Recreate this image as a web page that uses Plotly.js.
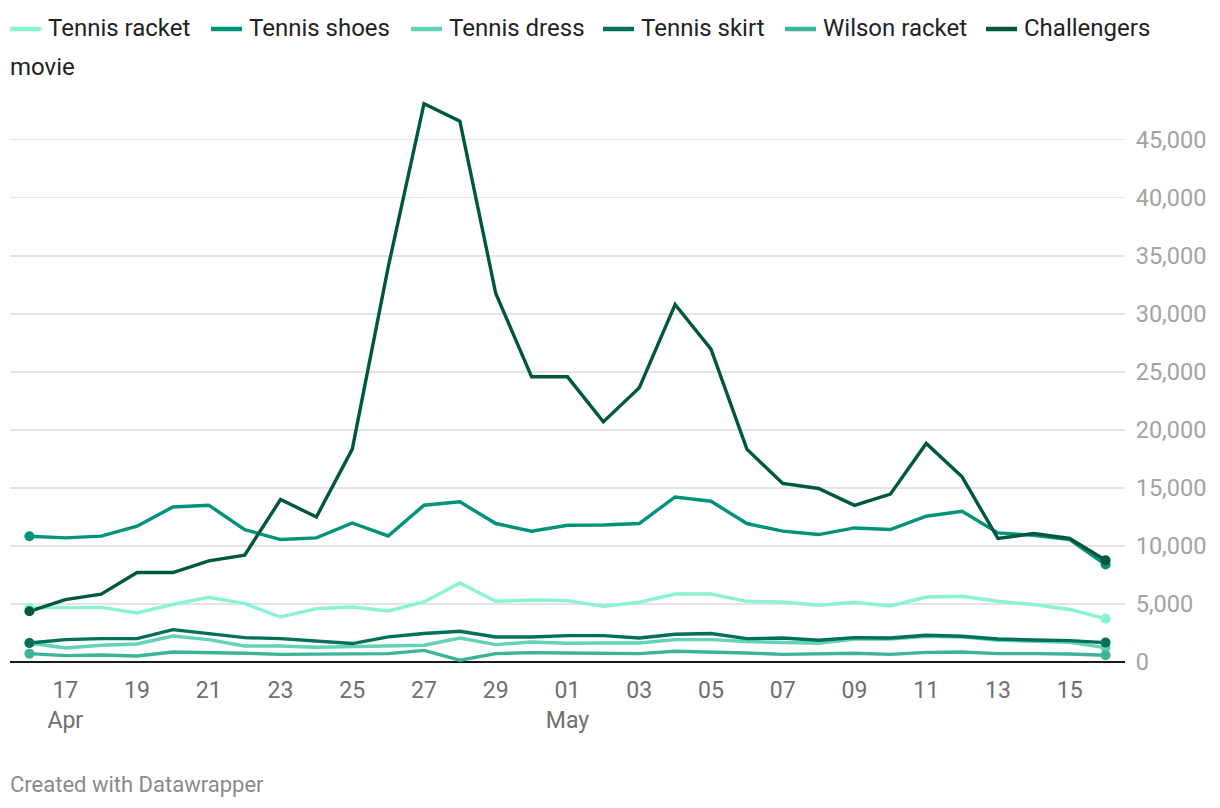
<!DOCTYPE html>
<html>
<head>
<meta charset="utf-8">
<script src="https://cdn.plot.ly/plotly-3.0.1.min.js"></script>
<style>
  html, body { margin: 0; padding: 0; background: #ffffff; }
  #chart { width: 1220px; height: 808px; }
</style>
</head>
<body>
<div id="chart"></div>
<script>
// ---------- DATA ----------
const dates = [
  "2024-04-16","2024-04-17","2024-04-18","2024-04-19","2024-04-20","2024-04-21","2024-04-22",
  "2024-04-23","2024-04-24","2024-04-25","2024-04-26","2024-04-27","2024-04-28","2024-04-29",
  "2024-04-30","2024-05-01","2024-05-02","2024-05-03","2024-05-04","2024-05-05","2024-05-06",
  "2024-05-07","2024-05-08","2024-05-09","2024-05-10","2024-05-11","2024-05-12","2024-05-13",
  "2024-05-14","2024-05-15","2024-05-16"
];

const seriesNames = ["Tennis racket", "Tennis shoes", "Tennis dress", "Tennis skirt", "Wilson racket", "Challengers movie"];

const tennisRacket = [4660,4660,4710,4220,4970,5580,5030,3880,4600,4740,4400,5170,6810,5230,5340,5290,4800,5150,5860,5860,5230,5170,4890,5150,4830,5600,5660,5230,4950,4520,3740];
const tennisShoes  = [10840,10690,10840,11700,13360,13510,11410,10550,10690,11980,10860,13510,13800,11930,11270,11780,11800,11930,14220,13850,11930,11270,10980,11550,11410,12560,12990,11120,10920,10550,8400];
const tennisDress  = [1640,1210,1440,1550,2240,1930,1380,1380,1270,1320,1440,1440,2070,1500,1720,1610,1640,1640,1930,1930,1760,1700,1610,1980,1980,2220,2160,1870,1780,1700,1240];
const tennisSkirt  = [1640,1930,2010,2010,2790,2450,2100,2010,1810,1590,2160,2450,2650,2160,2160,2270,2270,2070,2390,2450,2010,2070,1870,2100,2070,2300,2220,1980,1900,1840,1670];
const wilsonRacket = [720,550,600,520,860,830,750,660,660,660,720,1000,150,720,810,780,780,720,920,860,780,660,720,750,660,830,860,720,720,690,580];
const challengers  = [4370,5380,5840,7710,7710,8710,9200,14000,12500,18340,34000,48100,46600,31750,24570,24570,20690,23620,30800,26960,18340,15380,14950,13500,14460,18830,15950,10640,11070,10640,8770];

const xTickVals = ["2024-04-17","2024-04-19","2024-04-21","2024-04-23","2024-04-25","2024-04-27","2024-04-29",
                   "2024-05-01","2024-05-03","2024-05-05","2024-05-07","2024-05-09","2024-05-11","2024-05-13","2024-05-15"];
const xTickText = ["17<br>Apr","19","21","23","25","27","29","01<br>May","03","05","07","09","11","13","15"];
const yTickVals = [0,5000,10000,15000,20000,25000,30000,35000,40000,45000];

// ---------- STYLE ----------
const colors = ["#8af3d5", "#00937a", "#63d2b5", "#00705a", "#3db497", "#00573f"];
const allSeries = [tennisRacket, tennisShoes, tennisDress, tennisSkirt, wilsonRacket, challengers];
const FONT = "Roboto, 'Open Sans', sans-serif";

const W = 1220, H = 808;
const M = { l: 10, r: 95, t: 100, b: 146 };
const plotW = W - M.l - M.r, plotH = H - M.t - M.b;
const px2x = px => (px - M.l) / plotW;
const py2y = py => (H - M.b - py) / plotH;

const traces = [];
allSeries.forEach((vals, i) => {
  traces.push({
    type: "scatter",
    mode: "lines",
    name: seriesNames[i],
    x: dates,
    y: vals,
    line: { color: colors[i], width: 3.4 },
    showlegend: false,
    hoverinfo: "x+y+name"
  });
});
// end-point dots (first and last value of each series), drawn over the lines
allSeries.forEach((vals, i) => {
  const n = vals.length;
  traces.push({
    type: "scatter",
    mode: "markers",
    name: seriesNames[i],
    x: [dates[0], dates[n - 1]],
    y: [vals[0], vals[n - 1]],
    marker: { color: colors[i], size: 10, opacity: 1, line: { width: 0 } },
    showlegend: false,
    hoverinfo: "x+y+name"
  });
});

// ---------- custom legend ----------
const swatchX = [10, 211, 411, 603, 785, 986];
const shapes = [];
const annotations = [];
seriesNames.forEach((name, i) => {
  shapes.push({
    type: "line", xref: "paper", yref: "paper",
    x0: px2x(swatchX[i]), x1: px2x(swatchX[i] + 31),
    y0: py2y(29), y1: py2y(29),
    line: { color: colors[i], width: 4.5 }
  });
  const words = name.split(" ");
  const lines = (i === seriesNames.length - 1) ? [words[0], words.slice(1).join(" ")] : [name];
  annotations.push({
    xref: "paper", yref: "paper",
    x: px2x(swatchX[i] + 36), y: py2y(28),
    xanchor: "left", yanchor: "middle",
    text: lines[0], showarrow: false,
    font: { family: FONT, size: 24, color: "#222222" }
  });
  if (lines.length > 1) {
    annotations.push({
      xref: "paper", yref: "paper",
      x: px2x(8), y: py2y(67),
      xanchor: "left", yanchor: "middle",
      text: lines[1], showarrow: false,
      font: { family: FONT, size: 24, color: "#222222" }
    });
  }
});

annotations.push({
  xref: "paper", yref: "paper",
  x: px2x(8), y: py2y(784),
  xanchor: "left", yanchor: "middle",
  text: "Created with Datawrapper", showarrow: false,
  font: { family: FONT, size: 22, color: "#8a8a8a" }
});

const layout = {
  width: W, height: H,
  margin: M,
  paper_bgcolor: "#ffffff",
  plot_bgcolor: "#ffffff",
  font: { family: FONT },
  showlegend: false,
  xaxis: {
    type: "date",
    range: ["2024-04-15 11:00", "2024-05-16 13:00"],
    tickmode: "array",
    tickvals: xTickVals,
    ticktext: xTickText,
    showgrid: false,
    zeroline: false,
    showline: false,
    ticks: "outside", ticklen: 7, tickcolor: "rgba(0,0,0,0)",
    tickfont: { family: FONT, size: 23, color: "#6f6f6f" },
    automargin: false,
    fixedrange: true
  },
  yaxis: {
    side: "right",
    range: [0, 48420],
    tickmode: "array",
    tickvals: yTickVals,
    tickformat: ",d",
    showgrid: true,
    gridcolor: "#e4e4e4",
    gridwidth: 1.5,
    zeroline: true,
    zerolinecolor: "#1a1a1a",
    zerolinewidth: 2.5,
    showline: false,
    ticks: "outside", ticklen: 5, tickcolor: "rgba(0,0,0,0)",
    tickfont: { family: FONT, size: 23.5, color: "#a3a3a3" },
    automargin: false,
    fixedrange: true
  },
  shapes: shapes,
  annotations: annotations
};

Plotly.newPlot("chart", traces, layout, { displayModeBar: false, staticPlot: true });
</script>
</body>
</html>
